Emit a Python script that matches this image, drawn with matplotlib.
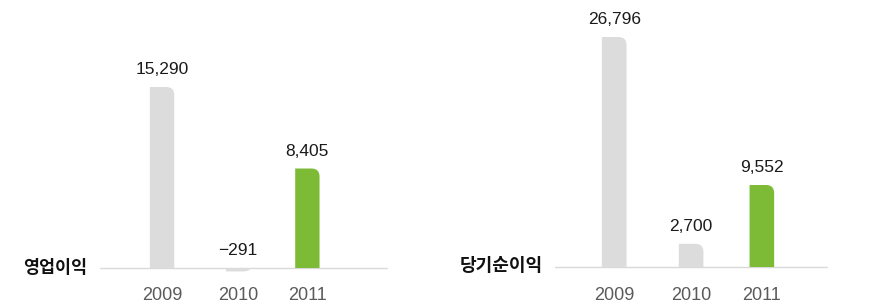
import matplotlib.pyplot as plt
from matplotlib.path import Path
from matplotlib.patches import PathPatch

plt.rcParams['font.family'] = ['Liberation Sans', 'Noto Sans CJK KR']

years = ['2009', '2010', '2011']
op_profit = [15290, -291, 8405]        # 영업이익
net_profit = [26796, 2700, 9552]       # 당기순이익
value_labels_op = ['15,290', '\u2212291', '8,405']
value_labels_net = ['26,796', '2,700', '9,552']

GREY = '#dcdcdc'
GREEN = '#7dbb37'
colors = [GREY, GREY, GREEN]

fig = plt.figure(figsize=(8.79, 3.06), dpi=100)
W, H = 879, 306


def rounded_bar(ax, x, h, width, color, r_px=8):
    # bar with rounded outer-right corner, radius given in pixels
    fig.canvas.draw()
    p0 = ax.transData.transform((0, 0))
    p1 = ax.transData.transform((1, 1))
    ux = p1[0] - p0[0]
    uy = p1[1] - p0[1]
    x0, x1 = x - width / 2, x + width / 2
    rx = r_px / ux
    ry = min(r_px / uy, abs(h))
    s = 1 if h >= 0 else -1
    verts = [(x0, 0), (x0, h), (x1 - rx, h), (x1, h), (x1, h - s * ry),
             (x1, 0), (x0, 0)]
    codes = [Path.MOVETO, Path.LINETO, Path.LINETO, Path.CURVE3, Path.CURVE3,
             Path.LINETO, Path.CLOSEPOLY]
    ax.add_patch(PathPatch(Path(verts, codes), facecolor=color,
                           edgecolor='none', zorder=2))


def panel(rect, values, labels, title, title_size, positions, xlim, ylim):
    ax = fig.add_axes(rect)
    ax.set_xlim(*xlim)
    ax.set_ylim(*ylim)
    for s in ax.spines.values():
        s.set_visible(False)
    ax.set_yticks([])
    ax.set_xticks(positions)
    ax.set_xticklabels(years, fontsize=13, color='#5a5a5a')
    ax.tick_params(axis='x', length=0, pad=5)
    ax.axhline(0, color='#d9d9d9', linewidth=1, zorder=1)
    for x, v, lab, c in zip(positions, values, labels, colors):
        rounded_bar(ax, x, v, 0.32, c)
        ytxt = max(v, 0)
        ax.annotate(lab, xy=(x, ytxt), xytext=(0, 7), textcoords='offset points',
                    ha='center', va='bottom', fontsize=12.5, color='#1a1a1a')
    ax.annotate(title, xy=(0, 0), xycoords=('axes fraction', 'data'),
                xytext=(-9, 0), textcoords='offset points', ha='right',
                va='center', fontsize=title_size, fontweight='bold',
                color='#111111', annotation_clip=False)
    return ax


panel([100 / W, 26 / H, 288 / W, 260 / H], op_profit, value_labels_op, '영업이익', 12.5,
      [0, 1, 1.91], (-0.816, 2.97), (-1014, 20950))
panel([555 / W, 26 / H, 273 / W, 260 / H], net_profit, value_labels_net, '당기순이익', 13,
      [0, 1, 1.92], (-0.77, 2.78), (-1515, 28777))

fig.savefig('out.png', dpi=100)
